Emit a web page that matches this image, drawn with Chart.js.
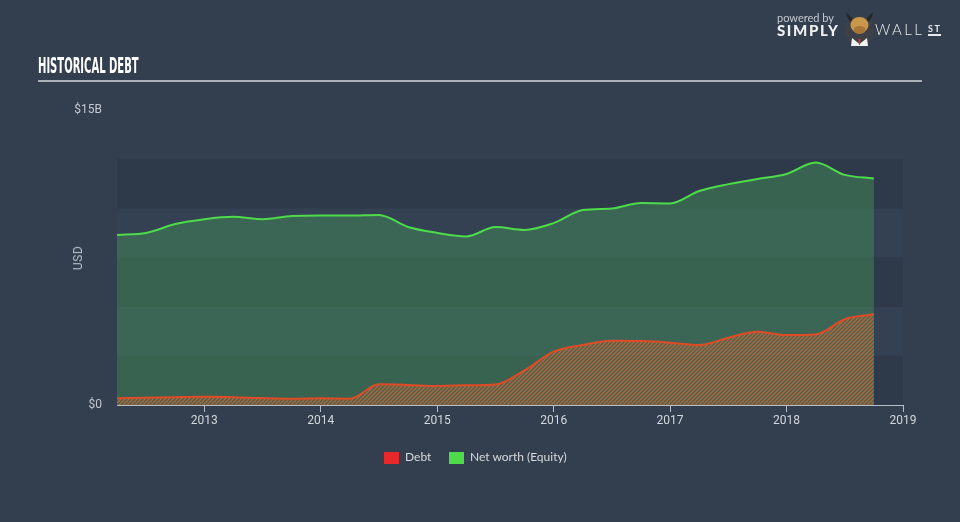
<!DOCTYPE html>
<html>
<head>
<meta charset="utf-8">
<script src="https://cdn.jsdelivr.net/npm/chart.js@4/dist/chart.umd.min.js"></script>
<style>
  html, body { margin:0; padding:0; background:#333f4f; width:960px; height:522px; overflow:hidden; font-family: Lato, "Open Sans", sans-serif; }
  #wrap { position:absolute; left:0; top:0; width:960px; height:522px; }
  #title { position:absolute; left:38px; top:54px; color:#ffffff; font-family:"Liberation Sans Narrow","DejaVu Sans Condensed",sans-serif; font-weight:bold; font-size:21px; transform-origin:0 0; transform:scaleX(0.53); white-space:nowrap; }
  #rule { position:absolute; left:38px; top:80px; width:884px; height:2px; background:#a9b0b8; }
  #usd { position:absolute; left:78px; top:258px; color:#b9c0c9; font-size:12px; font-family:Roboto, sans-serif; transform:translate(-50%,-50%) rotate(-90deg); white-space:nowrap; letter-spacing:0.5px; }
  #legend { position:absolute; top:449px; left:384px; font-size:12px; color:#d6dade; font-family:Lato, sans-serif; white-space:nowrap; }
  .li { position:absolute; top:0; white-space:nowrap; }
  .sw { display:inline-block; width:15px; height:12px; vertical-align:middle; margin-right:6px; }
  .lg { position:absolute; white-space:nowrap; font-family:Lato, sans-serif; line-height:1; }
  #pb { left:777px; top:12px; font-size:11px; color:#c5cad1; }
  #simply { left:777px; top:23px; font-size:15px; font-weight:900; color:#eef0f2; letter-spacing:1.6px; }
  #wall { left:875px; top:22px; font-size:15px; font-weight:300; color:#e8eaed; letter-spacing:2.4px; }
  #st { left:928px; top:24px; font-size:9px; font-weight:700; color:#e8eaed; letter-spacing:1.5px; padding-bottom:1px; border-bottom:2px solid #e8eaed; }
  #bull { position:absolute; left:843px; top:9px; width:33px; height:38px; }
</style>
</head>
<body>
<div id="wrap">
  <canvas id="c" width="960" height="522"></canvas>
</div>
<div id="title">HISTORICAL DEBT</div>
<div id="rule"></div>
<div id="usd">USD</div>
<div id="legend">
  <span class="li" style="left:0"><span class="sw" style="background:#e8292b"></span>Debt</span>
  <span class="li" style="left:65px"><span class="sw" style="background:#4ddb4a"></span>Net worth (Equity)</span>
</div>
<div class="lg" id="pb">powered by</div>
<div class="lg" id="simply">SIMPLY</div>
<svg id="bull" viewBox="0 0 33 38">
  <circle cx="16.5" cy="22" r="15" fill="#3d4046"/>
  <path d="M3 3 Q4 13 11 13 L9 9 Z M30 3 Q29 13 22 13 L24 9 Z" fill="#25272a"/>
  <ellipse cx="16.5" cy="16" rx="9" ry="8" fill="#c9974a"/>
  <ellipse cx="16.5" cy="21" rx="6" ry="4" fill="#a77538"/>
  <path d="M9 29 L16.5 35 L24 29 L25 37 L8 37 Z" fill="#f2f2f2"/>
  <path d="M15.5 30 L17.5 30 L17 36 L16 36 Z" fill="#d9381e"/>
</svg>
<div class="lg" id="wall">WALL</div>
<div class="lg" id="st">ST</div>
<script>
// ---- data (values in billions USD) ----
const periods = [2012.25, 2012.5, 2012.75, 2013.0, 2013.25, 2013.5, 2013.75, 2014.0, 2014.25, 2014.5, 2014.75, 2015.0, 2015.25, 2015.5, 2015.75, 2016.0, 2016.25, 2016.5, 2016.75, 2017.0, 2017.25, 2017.5, 2017.75, 2018.0, 2018.25, 2018.5, 2018.75];
const debt = [0.34, 0.37, 0.40, 0.42, 0.40, 0.35, 0.32, 0.34, 0.32, 1.05, 1.02, 0.97, 1.00, 1.04, 1.76, 2.71, 3.05, 3.27, 3.25, 3.17, 3.05, 3.42, 3.72, 3.56, 3.59, 4.36, 4.61];
const equity = [8.65, 8.75, 9.20, 9.45, 9.57, 9.45, 9.61, 9.64, 9.63, 9.66, 9.05, 8.75, 8.57, 9.05, 8.90, 9.25, 9.91, 9.99, 10.27, 10.25, 10.88, 11.23, 11.49, 11.75, 12.33, 11.70, 11.52];
const xTicks = [2013, 2014, 2015, 2016, 2017, 2018, 2019];
const yTicks = [0, 15];
const bandEdges = [0, 2.5, 5, 7.5, 10, 12.5];

function hatch() {
  const s = 4;
  const cv = document.createElement('canvas');
  cv.width = s; cv.height = s;
  const g = cv.getContext('2d');
  g.strokeStyle = 'rgba(196,104,56,0.8)';
  g.lineWidth = 1.6;
  g.beginPath();
  g.moveTo(-1, s + 1); g.lineTo(s + 1, -1);
  g.moveTo(-1, 1); g.lineTo(1, -1);
  g.moveTo(s - 1, s + 1); g.lineTo(s + 1, s - 1);
  g.stroke();
  return g.createPattern(cv, 'repeat');
}

const bands = {
  id: 'bands',
  beforeDatasetsDraw(chart) {
    const { ctx, chartArea } = chart;
    const y = chart.scales.y;
    ctx.save();
    for (let i = 0; i < bandEdges.length - 1; i++) {
      const y0 = y.getPixelForValue(bandEdges[i]);
      const y1 = y.getPixelForValue(bandEdges[i + 1]);
      ctx.fillStyle = (i % 2 === 0) ? '#2e3a4a' : '#344152';
      ctx.fillRect(chartArea.left, y1, chartArea.right - chartArea.left, y0 - y1);
    }
    ctx.restore();
  }
};

new Chart(document.getElementById('c'), {
  type: 'line',
  data: {
    datasets: [
      {
        label: 'Debt',
        data: periods.map((p, i) => ({ x: p, y: debt[i] })),
        borderColor: '#e04b26',
        borderWidth: 2,
        backgroundColor: hatch(),
        fill: 'origin',
        pointRadius: 0,
        cubicInterpolationMode: 'monotone'
      },
      {
        label: 'Net worth (Equity)',
        data: periods.map((p, i) => ({ x: p, y: equity[i] })),
        borderColor: '#4ddb4a',
        borderWidth: 2,
        backgroundColor: 'rgba(66,140,88,0.5)',
        fill: 'origin',
        pointRadius: 0,
        cubicInterpolationMode: 'monotone'
      }
    ]
  },
  options: {
    responsive: false,
    animation: false,
    events: [],
    layout: { padding: { top: 110, right: 57, left: 0, bottom: 0 } },
    plugins: { legend: { display: false }, tooltip: { enabled: false } },
    scales: {
      x: {
        type: 'linear',
        min: 2012.25,
        max: 2019,
        afterBuildTicks(s) { s.ticks = xTicks.map(v => ({ value: v })); },
        afterFit(s) { s.height = 117; },
        grid: { drawOnChartArea: false, drawTicks: true, tickLength: 7, color: '#b6bec8', lineWidth: 1 },
        border: { display: true, color: '#b6bec8', width: 1 },
        ticks: { color: '#d2d7dd', font: { family: 'Roboto', size: 12 }, padding: 2, maxRotation: 0, callback: v => String(v) }
      },
      y: {
        min: 0,
        max: 15,
        afterBuildTicks(s) { s.ticks = yTicks.map(v => ({ value: v })); },
        afterFit(s) { s.width = 117; },
        grid: { display: false, drawTicks: false },
        border: { display: false },
        ticks: { color: '#c3c9d1', font: { family: 'Roboto', size: 12 }, padding: 15, callback: v => '$' + (v === 0 ? '0' : v + 'B') }
      }
    }
  },
  plugins: [bands]
});
</script>
</body>
</html>
